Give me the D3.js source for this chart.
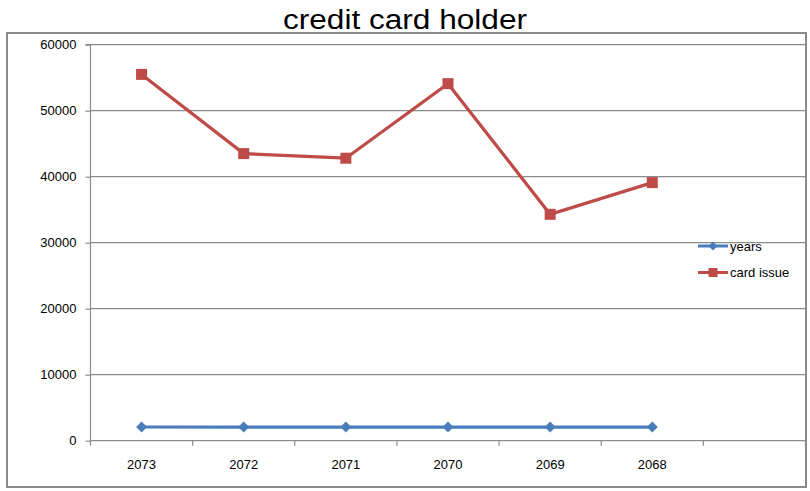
<!DOCTYPE html>
<html>
<head>
<meta charset="utf-8">
<script src="https://cdn.jsdelivr.net/npm/d3@7"></script>
<style>
  html, body { margin: 0; padding: 0; background: #fff; }
  svg { display: block; }
  text { font-family: "Liberation Sans", Arial, sans-serif; }
</style>
</head>
<body>
<svg id="chart" width="810" height="491"></svg>
<script>
// ---- data ----
const categories = ["2073", "2072", "2071", "2070", "2069", "2068", ""];
const yearsValues = [2073, 2072, 2071, 2070, 2069, 2068];
const cardIssueValues = [55500, 43500, 42800, 54100, 34300, 39100];
const seriesNames = ["years", "card issue"];
const yTicks = [0, 10000, 20000, 30000, 40000, 50000, 60000];
const titleText = "credit card holder";

// ---- layout ----
const W = 810, H = 491;
const plot = { left: 90.5, right: 805.5, top: 44.7, bottom: 440.7 };
const colors = { years: "#4a7ebb", card: "#be4b48", grid: "#8c8c8c" };

const svg = d3.select("#chart");

// outer frame
svg.append("rect")
  .attr("x", 7).attr("y", 33).attr("width", 799).attr("height", 454)
  .attr("fill", "none").attr("stroke", "#8a8a8a").attr("stroke-width", 2);

// title
svg.append("text")
  .attr("x", W / 2).attr("y", 29)
  .attr("text-anchor", "middle")
  .attr("font-size", 27)
  .attr("textLength", 244).attr("lengthAdjust", "spacingAndGlyphs")
  .attr("fill", "#000")
  .text(titleText);

const x = d3.scaleBand().domain(categories).range([plot.left, plot.right]);
const y = d3.scaleLinear().domain([0, 60000]).range([plot.bottom, plot.top]);

// gridlines
svg.append("g").selectAll("line").data(yTicks.filter(d => d > 0)).join("line")
  .attr("x1", plot.left).attr("x2", plot.right)
  .attr("y1", d => y(d)).attr("y2", d => y(d))
  .attr("stroke", colors.grid).attr("stroke-width", 1.2);

// y axis
const yAxis = d3.axisLeft(y).tickValues(yTicks).tickSize(5).tickPadding(9).tickFormat(d3.format("d"));
const gy = svg.append("g").attr("transform", `translate(${plot.left},0)`).call(yAxis);
gy.select(".domain").attr("stroke", colors.grid).attr("stroke-width", 1.2).attr("d", `M-5,${plot.top}H0V${plot.bottom}`);
gy.selectAll(".tick line").attr("stroke", colors.grid).attr("stroke-width", 1.2);
gy.selectAll(".tick text").attr("font-size", 13).attr("fill", "#000")
  .attr("font-family", "'Liberation Sans', Arial, sans-serif");

// x axis
const xAxis = d3.axisBottom(x).tickSize(0).tickPadding(19);
const gx = svg.append("g").attr("transform", `translate(0,${plot.bottom})`).call(xAxis);
gx.select(".domain").attr("stroke", colors.grid).attr("stroke-width", 1.2).attr("d", `M${plot.left},0H${plot.right}`);
gx.selectAll(".tick text").attr("font-size", 13).attr("fill", "#000")
  .attr("font-family", "'Liberation Sans', Arial, sans-serif");
// band boundary ticks
const bounds = categories.map(c => x(c)).concat([x(categories[categories.length - 1]) + x.bandwidth()]);
svg.append("g").selectAll("line").data(bounds).join("line")
  .attr("x1", d => d).attr("x2", d => d)
  .attr("y1", plot.bottom).attr("y2", plot.bottom + 5)
  .attr("stroke", colors.grid).attr("stroke-width", 1.2);

const cx = (i) => x(categories[i]) + x.bandwidth() / 2;

// series lines
const line = d3.line().x((d, i) => cx(i)).y(d => y(d));

svg.append("path").datum(yearsValues)
  .attr("d", line).attr("fill", "none")
  .attr("stroke", colors.years).attr("stroke-width", 3.2);

svg.append("path").datum(cardIssueValues)
  .attr("d", line).attr("fill", "none")
  .attr("stroke", colors.card).attr("stroke-width", 3.2);

// markers
const diamond = (s) => `M0,${-s}L${s},0L0,${s}L${-s},0Z`;
svg.append("g").selectAll("path").data(yearsValues).join("path")
  .attr("transform", (d, i) => `translate(${cx(i)},${y(d)})`)
  .attr("d", diamond(5.5)).attr("fill", colors.years);

svg.append("g").selectAll("rect").data(cardIssueValues).join("rect")
  .attr("x", (d, i) => cx(i) - 5.5).attr("y", d => y(d) - 5.5)
  .attr("width", 11).attr("height", 11)
  .attr("fill", colors.card);

// legend
const legendItems = [
  { name: seriesNames[0], color: colors.years, shape: "diamond", y: 246 },
  { name: seriesNames[1], color: colors.card, shape: "square", y: 272.5 }
];
const lg = svg.append("g");
legendItems.forEach(it => {
  lg.append("line").attr("x1", 698).attr("x2", 728).attr("y1", it.y).attr("y2", it.y)
    .attr("stroke", it.color).attr("stroke-width", 3);
  if (it.shape === "diamond") {
    lg.append("path").attr("transform", `translate(713,${it.y})`).attr("d", diamond(4.5)).attr("fill", it.color);
  } else {
    lg.append("rect").attr("x", 713 - 4.5).attr("y", it.y - 4.5).attr("width", 9).attr("height", 9).attr("fill", it.color);
  }
  lg.append("text").attr("x", 730).attr("y", it.y).attr("dy", "0.35em")
    .attr("font-size", 13).attr("fill", "#000").text(it.name);
});
</script>
</body>
</html>
